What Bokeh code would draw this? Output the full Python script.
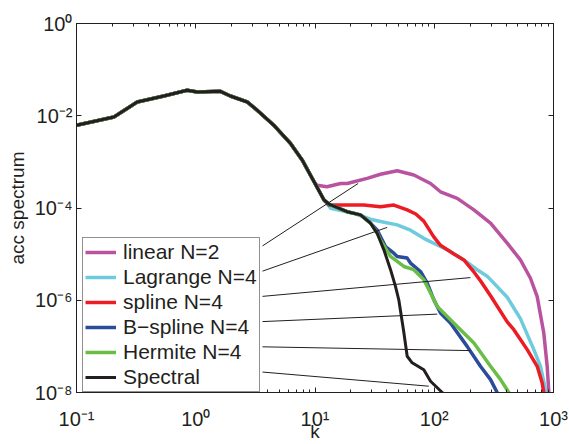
import math
from bokeh.plotting import figure
from bokeh.models import FixedTicker, LogAxis, Legend, LegendItem
from bokeh.embed import file_html
from bokeh.resources import INLINE

# ---------------- data ----------------
# shared low-k part of every spectrum
k_low = [0.1, 0.206, 0.323, 0.54, 0.847, 1.03, 1.61, 1.95, 2.70, 3.27, 4.52, 6.24, 7.82, 9.77]
s_low = [6.2e-3, 9.4e-3, 0.0199, 0.0268, 0.0356, 0.0327, 0.0339, 0.0268, 0.0199, 0.0132,
         6.2e-3, 2.5e-3, 1.09e-3, 3.8e-4]
# knee shared by all but linear
k_knee = [11.9]
s_knee = [1.49e-4]
# part shared by B-spline, Hermite and Spectral
k_mid = [13.1, 18.6, 24.1, 29.2]
s_mid = [1.22e-4, 8.3e-5, 7.1e-5, 4.7e-5]

k_linear = [10.4, 12.6, 16.4, 18.6, 27.4, 35.4, 48.9, 67.5, 93.1, 112.8, 156, 215, 296.5,
            409, 528, 641, 730, 829, 885, 914, 925]
s_linear = [3.1e-4, 2.9e-4, 3.4e-4, 3.4e-4, 4.4e-4, 5.4e-4, 6.4e-4, 5.2e-4, 3.4e-4, 2.25e-4,
            1.62e-4, 9.1e-5, 4.7e-5, 1.73e-5, 7.5e-6, 3.0e-6, 1.2e-6, 1.95e-7, 3.7e-8, 1.0e-8, 7e-9]

k_lagrange = [13.5, 21.1, 29.2, 35.4, 48.9, 63.2, 81.7, 106, 136.7, 177, 229, 278, 296.5, 409,
              528, 684, 778, 857, 874]
s_lagrange = [9.9e-5, 7.7e-5, 5.7e-5, 5.1e-5, 4.3e-5, 3.3e-5, 2.2e-5, 1.58e-5, 1.14e-5, 7.5e-6,
              4.6e-6, 3.3e-6, 2.8e-6, 1.16e-6, 4.0e-7, 8.5e-8, 3.7e-8, 1.16e-8, 7e-9]

k_spline = [13.1, 17.5, 25.6, 35.4, 45.8, 59.3, 70, 81.7, 99.1, 112.8, 146, 177, 215, 244,
            296.5, 409, 465, 602, 730, 804, 829, 840]
s_spline = [1.16e-4, 1.16e-4, 1.16e-4, 1.07e-4, 1.16e-4, 9.1e-5, 7.4e-5, 5.2e-5, 2.36e-5,
            1.55e-5, 1.01e-5, 7.5e-6, 4.1e-6, 2.64e-6, 1.25e-6, 3.4e-7, 2.3e-7, 8.5e-8, 3.7e-8,
            1.6e-8, 1.0e-8, 7e-9]

k_bspline = [33.3, 39.0, 45.8, 48.9, 59.3, 63.2, 76.7, 87.3, 99.1, 112.8, 136.7, 188.8, 244,
             296.5, 337, 360]
s_bspline = [3.3e-5, 1.46e-5, 1.05e-5, 8.9e-6, 8.2e-6, 6.4e-6, 4.2e-6, 2.36e-6, 1.03e-6,
             5.3e-7, 3.2e-7, 1.0e-7, 3.7e-8, 1.9e-8, 1.0e-8, 7e-9]

k_hermite = [33.3, 35.4, 43.0, 55.6, 67.3, 81.7, 93.1, 106, 136.7, 166, 215, 296.5, 360, 422, 445]
s_hermite = [2.8e-5, 2.0e-5, 8.9e-6, 5.4e-6, 4.6e-6, 2.8e-6, 1.43e-6, 7.3e-7, 3.8e-7, 2.3e-7,
             1.19e-7, 3.7e-8, 1.9e-8, 1.0e-8, 7e-9]

k_spectral = [33.3, 37.8, 43.0, 47.3, 50.5, 55.6, 59.3, 65.3, 81.7, 93.1, 116.7, 122]
s_spectral = [2.8e-5, 1.24e-5, 4.6e-6, 2.0e-6, 1.0e-6, 2.0e-7, 6.1e-8, 4.4e-8, 3.1e-8,
              1.75e-8, 1.0e-8, 7e-9]

labels = ["linear N=2", "Lagrange N=4", "spline N=4", "B\u2212spline N=4", "Hermite N=4", "Spectral"]
# points on the curves that the legend pointer lines reach
pointer_k = [23.0, 40.3, 201, 106, 201, 90]
pointer_s = [3.4e-4, 3.8e-5, 3.1e-6, 5.0e-7, 8.1e-8, 1.37e-8]

x_ticks = [0.1, 1.0, 10.0, 100.0, 1000.0]
x_tick_labels = ["10\u207b\u00b9", "10\u2070", "10\u00b9", "10\u00b2", "10\u00b3"]
x_minor = [m * 10.0 ** e for e in range(-1, 3) for m in range(2, 10)]
y_ticks = [1e-8, 1e-6, 1e-4, 1e-2, 1.0]
y_tick_labels = ["10\u207b\u2078", "10\u207b\u2076", "10\u207b\u2074", "10\u207b\u00b2", "10\u2070"]

x_title = "k"
y_title = "acc spectrum"

# ---------------- styling / layout ----------------
W, H = 569, 444
FL, FR, FT, FB = 76, 16, 23, 51
X0, X1 = 0.1, 1000.0
Y0, Y1 = 1e-8, 1.0
INK = "#231F20"
FONT = "Liberation Sans"
colors = ["#B9529F", "#6DCBDD", "#ED1C24", "#2B4C9B", "#6ABD45", "#231F20"]
widths = [3.5, 3.5, 3.5, 3.5, 3.5, 3.0]

FW = W - FL - FR
FH = H - FT - FB


def px_to_data(sx, sy):
    lx = math.log10(X0) + (sx - FL) / FW * (math.log10(X1) - math.log10(X0))
    ly = math.log10(Y1) - (sy - FT) / FH * (math.log10(Y1) - math.log10(Y0))
    return 10 ** lx, 10 ** ly


p = figure(width=W, height=H, x_axis_type="log", y_axis_type="log",
           x_range=(X0, X1), y_range=(Y0, Y1), output_backend="svg",
           toolbar_location=None, min_border_left=FL, min_border_right=FR,
           min_border_top=FT, min_border_bottom=FB)
p.grid.visible = False
p.outline_line_color = INK
p.background_fill_color = "white"
p.border_fill_color = "white"


def style_axis(ax, ticker, overrides=None):
    ax.ticker = ticker
    if overrides is None:
        ax.major_label_text_font_size = "1px"
        ax.major_label_text_alpha = 0
        ax.major_label_standoff = 0
    else:
        ax.major_label_overrides = overrides
        ax.major_label_text_font = FONT
        ax.major_label_text_font_size = "20px"
        ax.major_label_text_color = INK
    ax.major_tick_in = 5
    ax.major_tick_out = 0
    ax.minor_tick_in = 3
    ax.minor_tick_out = 0
    ax.axis_line_color = INK
    ax.major_tick_line_color = INK
    ax.minor_tick_line_color = INK
    ax.axis_label_text_font = FONT
    ax.axis_label_text_font_size = "19px"
    ax.axis_label_text_font_style = "normal"
    ax.axis_label_text_color = INK


xa = p.xaxis[0]
ya = p.yaxis[0]
style_axis(xa, FixedTicker(ticks=x_ticks, minor_ticks=x_minor), dict(zip(x_ticks, x_tick_labels)))
style_axis(ya, FixedTicker(ticks=y_ticks, minor_ticks=[]), dict(zip(y_ticks, y_tick_labels)))
xa.major_label_standoff = 15
xa.axis_label = x_title
xa.axis_label_standoff = -12
ya.major_label_standoff = 4
ya.axis_label = y_title
ya.axis_label_standoff = 4

top = LogAxis()
right = LogAxis()
style_axis(top, FixedTicker(ticks=x_ticks, minor_ticks=x_minor))
style_axis(right, FixedTicker(ticks=y_ticks, minor_ticks=[]))
p.add_layout(top, "above")
p.add_layout(right, "right")

# ---------------- curves ----------------
series = [
    (k_low + k_linear, s_low + s_linear),
    (k_low + k_knee + k_lagrange, s_low + s_knee + s_lagrange),
    (k_low + k_knee + k_spline, s_low + s_knee + s_spline),
    (k_low + k_knee + k_mid + k_bspline, s_low + s_knee + s_mid + s_bspline),
    (k_low + k_knee + k_mid + k_hermite, s_low + s_knee + s_mid + s_hermite),
    (k_low + k_knee + k_mid + k_spectral, s_low + s_knee + s_mid + s_spectral),
]
renderers = []
for (kx, sy), c, lw in zip(series, colors, widths):
    renderers.append(p.line(kx, sy, line_color=c, line_width=lw, line_join="round"))

# pointer lines from the legend's right edge to the curves
LEG_LEFT, LEG_TOP, LEG_W, ROW_H, LEG_H = 82, 234, 180, 25.3, 154
x0s, y0s = [], []
for i in range(len(labels)):
    kx, vy = px_to_data(LEG_LEFT + LEG_W, LEG_TOP + 12 + i * ROW_H)
    x0s.append(kx)
    y0s.append(vy)
p.segment(x0=x0s, y0=y0s, x1=pointer_k, y1=pointer_s, line_color=INK, line_width=1)

items = [LegendItem(label=lab, renderers=[r]) for lab, r in zip(labels, renderers)]
legend = Legend(items=items, location=(LEG_LEFT - FL, (FT + FH) - (LEG_TOP + LEG_H) - 5),
                label_text_font=FONT, label_text_font_size="21px", label_text_color=INK,
                label_text_font_style="normal",
                glyph_width=31, glyph_height=24, label_height=24, label_standoff=7,
                spacing=1, padding=2, margin=0, border_line_color=INK, border_line_width=1,
                background_fill_color="white", background_fill_alpha=1.0)
p.add_layout(legend, "center")

open("out.html", "w").write(file_html(p, INLINE))
